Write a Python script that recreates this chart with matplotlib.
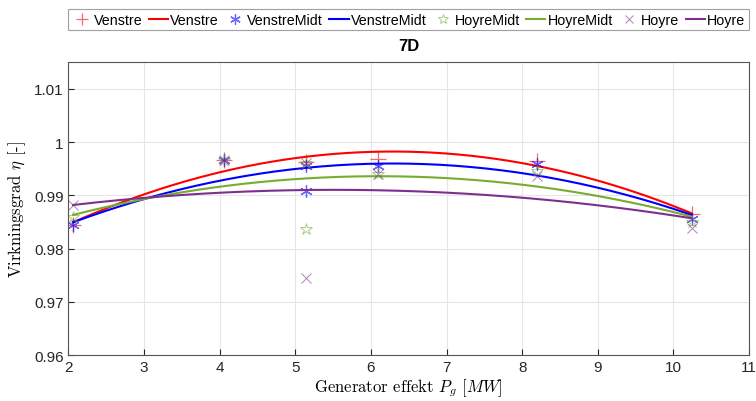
import numpy as np
import matplotlib
matplotlib.use("Agg")
import matplotlib.pyplot as plt

plt.rcParams["mathtext.fontset"] = "cm"
plt.rcParams["font.family"] = ["Liberation Sans", "DejaVu Sans"]

# Measured efficiency per turbine position (generator power in MW)
venstre_x = [2.06, 4.06, 5.14, 6.10, 8.19, 10.24]
venstre_y = [0.9844, 0.9966, 0.9963, 0.9969, 0.99645, 0.98646]

venstremidt_x = [2.06, 4.06, 5.14, 5.14, 6.10, 8.19, 10.24]
venstremidt_y = [0.9844, 0.9966, 0.9955, 0.9908, 0.9955, 0.9958, 0.98565]

hoyremidt_x = [2.06, 4.06, 5.14, 5.14, 6.10, 8.19, 10.24]
hoyremidt_y = [0.98584, 0.9966, 0.9960, 0.98365, 0.9941, 0.9946, 0.9849]

hoyre_x = [2.06, 4.06, 5.14, 5.14, 6.10, 8.19, 10.24]
hoyre_y = [0.98814, 0.9966, 0.9960, 0.97447, 0.9941, 0.9936, 0.9838]

names = ["Venstre", "VenstreMidt", "HoyreMidt", "Hoyre"]
colors = ["#ff0000", "#0000ff", "#77ac30", "#7e2f8e"]
xticks = [2, 3, 4, 5, 6, 7, 8, 9, 10, 11]
yticks = [0.96, 0.97, 0.98, 0.99, 1.00, 1.01]
ytick_labels = ["0.96", "0.97", "0.98", "0.99", "1", "1.01"]

asterisk = (6, 2, 0)
markers = [
    dict(marker="+", ms=11, mew=0.9),
    dict(marker=asterisk, ms=9, mew=0.9),
    dict(marker="*", ms=9, mew=0.7, mfc="none"),
    dict(marker="x", ms=7, mew=0.7),
]

series = [
    (venstre_x, venstre_y),
    (venstremidt_x, venstremidt_y),
    (hoyremidt_x, hoyremidt_y),
    (hoyre_x, hoyre_y),
]

fig = plt.figure(figsize=(7.56, 4.02), dpi=100)
ax = fig.add_axes([0.0906, 0.1144, 0.9001, 0.7281])

handles = []
for (xs, ys), name, c, mk in zip(series, names, colors, markers):
    xs = np.asarray(xs)
    ys = np.asarray(ys)
    h1, = ax.plot(xs, ys, ls="none", color=c, alpha=0.6, label=name, **mk)
    coef = np.polyfit(xs, ys, 2)
    xf = np.linspace(xs.min(), xs.max(), 200)
    h2, = ax.plot(xf, np.polyval(coef, xf), color=c, lw=1.5, label=name)
    handles += [h1, h2]

ax.set_xlim(2, 11)
ax.set_ylim(0.96, 1.015)
ax.set_xticks(xticks)
ax.set_yticks(yticks)
ax.set_yticklabels(ytick_labels)
ax.grid(True, color="#e6e6e6", lw=0.8)
ax.set_axisbelow(True)
ax.tick_params(direction="in", labelsize=11, colors="#262626", length=4)
for s in ax.spines.values():
    s.set_color("#555555")
    s.set_linewidth(0.8)

ax.set_title("7D", fontsize=12, fontweight="bold", pad=9)
ax.set_xlabel(r"Generator effekt $P_g$ $[MW]$", fontsize=12, family="cmr10", labelpad=2)
ax.set_ylabel(r"Virkningsgrad $\eta$ [-]", fontsize=12, family="cmr10", labelpad=4)

leg = fig.legend(handles=handles, loc="upper left", ncol=8,
                 bbox_to_anchor=(0.0906, 0.975, 0.9, 0.0), mode="expand",
                 fontsize=10.3, frameon=True, fancybox=False, edgecolor="#888888",
                 handlelength=1.35, handletextpad=0.15, columnspacing=0.3, borderpad=0.25,
                 borderaxespad=0.0, markerscale=0.85)
leg.get_frame().set_linewidth(0.8)

fig.savefig("out.png", dpi=100)
